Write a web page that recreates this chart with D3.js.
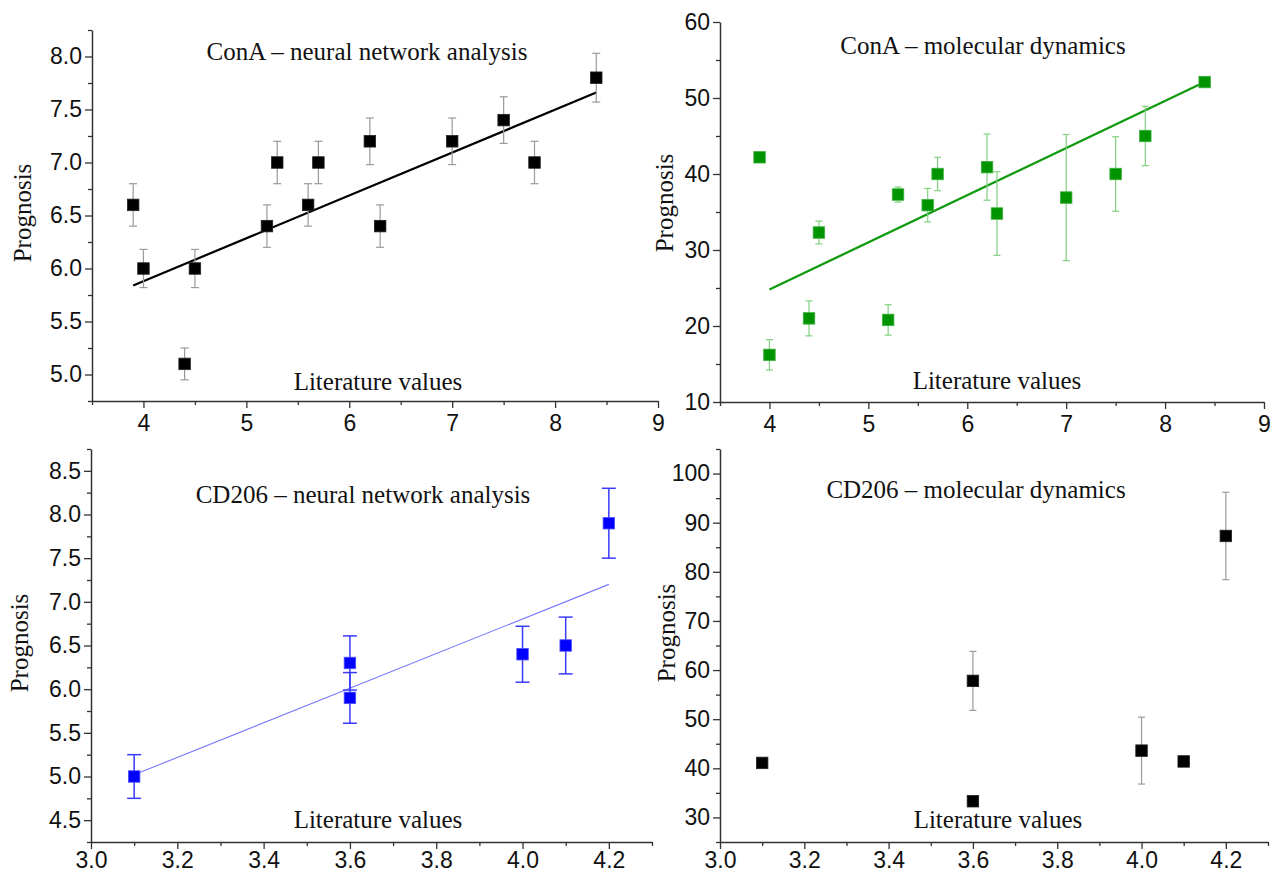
<!DOCTYPE html>
<html><head><meta charset="utf-8">
<script src="https://cdn.jsdelivr.net/npm/d3@7/dist/d3.min.js"></script>
<style>body{margin:0;background:#fff}</style>
</head><body><svg id="c" width="1271" height="875"></svg>
<script>
// ---- data ----
const conaX = [3.9, 4.0, 4.4, 4.5, 5.2, 5.3, 5.6, 5.7, 6.2, 6.3, 7.0, 7.5, 7.8, 8.4];
const conaNnY = [6.6, 6.0, 5.1, 6.0, 6.4, 7.0, 6.6, 7.0, 7.2, 6.4, 7.2, 7.4, 7.0, 7.8];
const conaNnErr = [0.2, 0.18, 0.15, 0.18, 0.2, 0.2, 0.2, 0.2, 0.22, 0.2, 0.22, 0.22, 0.2, 0.23];
const conaNnFitX = [3.9, 8.4];
const conaNnFitY = [5.84, 7.66];

const conaMdY = [42.2, 16.2, 21.0, 32.3, 20.8, 37.3, 35.9, 40.0, 40.9, 34.8, 36.9, 40.0, 45.0, 52.1];
const conaMdErr = [0.4, 2.0, 2.3, 1.5, 2.0, 1.0, 2.2, 2.2, 4.35, 5.5, 8.3, 4.9, 3.9, 0.5];
const conaMdFitX = [4.0, 8.4];
const conaMdFitY = [24.8, 52.1];

const cd206X = [3.1, 3.6, 3.6, 4.0, 4.1, 4.2];
const cd206NnY = [5.0, 6.3, 5.9, 6.4, 6.5, 7.9];
const cd206NnErr = [0.25, 0.31, 0.29, 0.32, 0.325, 0.4];
const cd206NnFitX = [3.1, 4.2];
const cd206NnFitY = [5.02, 7.2];

const cd206MdY = [41.1, 57.8, 33.3, 43.6, 41.4, 87.3];
const cd206MdErr = [0.8, 6.0, 0, 6.8, 0.5, 8.9];

const conaXTicks = [4, 5, 6, 7, 8, 9];
const conaXMinor = [3.5, 4.5, 5.5, 6.5, 7.5, 8.5];
const conaNnYTicks = [5.0, 5.5, 6.0, 6.5, 7.0, 7.5, 8.0];
const conaNnYMinor = [4.75, 5.25, 5.75, 6.25, 6.75, 7.25, 7.75, 8.25];
const conaMdYTicks = [10, 20, 30, 40, 50, 60];
const conaMdYMinor = [15, 25, 35, 45, 55];
const cd206XTicks = [3.0, 3.2, 3.4, 3.6, 3.8, 4.0, 4.2];
const cd206XMinor = [3.1, 3.3, 3.5, 3.7, 3.9, 4.1, 4.3];
const cd206NnYTicks = [4.5, 5.0, 5.5, 6.0, 6.5, 7.0, 7.5, 8.0, 8.5];
const cd206NnYMinor = [4.25, 4.75, 5.25, 5.75, 6.25, 6.75, 7.25, 7.75, 8.25, 8.75];
const cd206MdYTicks = [30, 40, 50, 60, 70, 80, 90, 100];
const cd206MdYMinor = [25, 35, 45, 55, 65, 75, 85, 95, 105];

const titles = ["ConA \u2013 neural network analysis", "ConA \u2013 molecular dynamics",
                "CD206 \u2013 neural network analysis", "CD206 \u2013 molecular dynamics"];
const xLabel = "Literature values";
const yLabel = "Prognosis";

// ---- drawing ----
const svg = d3.select("#c");
const SANS = "'Liberation Sans', Arial, sans-serif";
const SERIF = "'Liberation Serif', 'Times New Roman', serif";

function panel(o) {
  const x = d3.scaleLinear().domain(o.xd).range([o.l, o.r]);
  const y = d3.scaleLinear().domain(o.yd).range([o.b, o.t]);
  const g = svg.append("g");

  // minor ticks
  g.append("g").attr("transform", `translate(0,${o.b})`)
    .call(d3.axisBottom(x).tickValues(o.xMinor).tickSize(4).tickFormat(""))
    .call(s => s.select(".domain").remove());
  g.append("g").attr("transform", `translate(${o.l},0)`)
    .call(d3.axisLeft(y).tickValues(o.yMinor).tickSize(4).tickFormat(""))
    .call(s => s.select(".domain").remove());
  // major axes
  const xa = g.append("g").attr("transform", `translate(0,${o.b})`)
    .call(d3.axisBottom(x).tickValues(o.xTicks).tickSize(7).tickPadding(o.xpad).tickSizeOuter(0).tickFormat(d3.format(o.xf)));
  const ya = g.append("g").attr("transform", `translate(${o.l},0)`)
    .call(d3.axisLeft(y).tickValues(o.yTicks).tickSize(7).tickPadding(3).tickSizeOuter(0).tickFormat(d3.format(o.yf)));
  [xa, ya].forEach(a => {
    a.selectAll("text").attr("font-family", SANS).attr("font-size", 23).attr("fill", "#111");
  });
  g.selectAll(".domain").attr("stroke", "#333").attr("stroke-width", 1.5);
  g.selectAll(".tick line").attr("stroke", "#333").attr("stroke-width", 1.3);

  // text labels
  g.append("text").attr("x", o.titleX).attr("y", o.titleY).attr("text-anchor", "middle")
    .attr("font-family", SERIF).attr("font-size", 25).attr("fill", "#111").text(o.title);
  g.append("text").attr("x", o.xlX).attr("y", o.xlY).attr("text-anchor", "middle")
    .attr("font-family", SERIF).attr("font-size", 25).attr("fill", "#111").text(xLabel);
  g.append("text").attr("transform", `translate(${o.ylX},${o.ylY}) rotate(-90)`).attr("text-anchor", "middle")
    .attr("font-family", SERIF).attr("font-size", 25).attr("fill", "#111").text(yLabel);

  // fit line
  if (o.fitX) {
    g.append("line")
      .attr("x1", x(o.fitX[0])).attr("y1", y(o.fitY[0]))
      .attr("x2", x(o.fitX[1])).attr("y2", y(o.fitY[1]))
      .attr("stroke", o.fitColor).attr("stroke-width", o.fitWidth);
  }

  const pts = o.xs.map((v, i) => ({x: v, y: o.ys[i], e: o.errs[i]}));
  // error bars
  const eb = g.append("g").attr("stroke", o.errColor).attr("stroke-width", o.errWidth).attr("fill", "none");
  pts.filter(p => p.e > 0).forEach(p => {
    const cx = x(p.x), y1 = y(p.y + p.e), y2 = y(p.y - p.e);
    eb.append("line").attr("x1", cx).attr("x2", cx).attr("y1", y1).attr("y2", y2);
    eb.append("line").attr("x1", cx - o.cap / 2).attr("x2", cx + o.cap / 2).attr("y1", y1).attr("y2", y1);
    eb.append("line").attr("x1", cx - o.cap / 2).attr("x2", cx + o.cap / 2).attr("y1", y2).attr("y2", y2);
  });
  // markers
  const s = o.size;
  g.append("g").selectAll("rect").data(pts).join("rect")
    .attr("x", d => x(d.x) - s / 2).attr("y", d => y(d.y) - s / 2)
    .attr("width", s).attr("height", s)
    .attr("fill", o.color).attr("stroke", o.mstroke).attr("stroke-width", 0.8);
}

panel({
  l: 92, r: 658, t: 30, b: 401, xd: [3.5, 9], yd: [4.75, 8.25], xpad: 7,
  xTicks: conaXTicks, xMinor: conaXMinor, yTicks: conaNnYTicks, yMinor: conaNnYMinor, xf: "d", yf: ".1f",
  title: titles[0], titleX: 367, titleY: 60, xlX: 378, xlY: 390, ylX: 31, ylY: 213,
  xs: conaX, ys: conaNnY, errs: conaNnErr, fitX: conaNnFitX, fitY: conaNnFitY,
  fitColor: "#000", fitWidth: 2.2, errColor: "#9a9a9a", errWidth: 1.2, cap: 8,
  color: "#000", mstroke: "#222", size: 11.5
});
panel({
  l: 720, r: 1264, t: 22, b: 402, xd: [3.5, 9], yd: [10, 60], xpad: 7,
  xTicks: conaXTicks, xMinor: conaXMinor, yTicks: conaMdYTicks, yMinor: conaMdYMinor, xf: "d", yf: "d",
  title: titles[1], titleX: 983, titleY: 54, xlX: 997, xlY: 389, ylX: 673, ylY: 203,
  xs: conaX, ys: conaMdY, errs: conaMdErr, fitX: conaMdFitX, fitY: conaMdFitY,
  fitColor: "#109a10", fitWidth: 2.3, errColor: "#80d080", errWidth: 1.2, cap: 7,
  color: "#009400", mstroke: "#40b040", size: 11.5
});
panel({
  l: 91, r: 652, t: 449, b: 842, xd: [3.0, 4.3], yd: [4.25, 8.75], xpad: 3,
  xTicks: cd206XTicks, xMinor: cd206XMinor, yTicks: cd206NnYTicks, yMinor: cd206NnYMinor, xf: ".1f", yf: ".1f",
  title: titles[2], titleX: 363, titleY: 503, xlX: 378, xlY: 828, ylX: 28, ylY: 643,
  xs: cd206X, ys: cd206NnY, errs: cd206NnErr, fitX: cd206NnFitX, fitY: cd206NnFitY,
  fitColor: "#7878ff", fitWidth: 1.1, errColor: "#3a3aff", errWidth: 1.5, cap: 14,
  color: "#0000ff", mstroke: "#5050ff", size: 11.5
});
panel({
  l: 720, r: 1268, t: 449, b: 842, xd: [3.0, 4.3], yd: [25, 105], xpad: 3,
  xTicks: cd206XTicks, xMinor: cd206XMinor, yTicks: cd206MdYTicks, yMinor: cd206MdYMinor, xf: ".1f", yf: "d",
  title: titles[3], titleX: 976, titleY: 498, xlX: 998, xlY: 828, ylX: 675, ylY: 633,
  xs: cd206X, ys: cd206MdY, errs: cd206MdErr,
  errColor: "#9a9a9a", errWidth: 1.2, cap: 7,
  color: "#000", mstroke: "#222", size: 11.5
});
</script></body></html>
